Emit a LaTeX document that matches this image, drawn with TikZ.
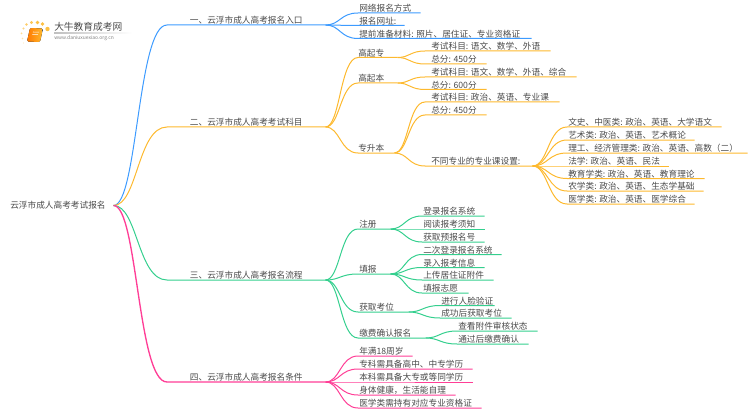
\documentclass[tikz,border=0pt]{standalone}
\usepackage{fontspec}
\setmainfont{Noto Sans CJK SC}
\usetikzlibrary{calc}
\definecolor{cblue}{HTML}{3D9BFF}
\definecolor{corange}{HTML}{FDB92E}
\definecolor{cgreen}{HTML}{34CF8E}
\definecolor{cpink}{HTML}{FF3E96}
\definecolor{ctext}{HTML}{4A4A4A}
\newlength{\mapw}
\tikzset{
  maptext/.style={inner sep=0pt,anchor=south west,text height=6pt,text depth=0.6pt,text=ctext,font=\fontsize{6.5pt}{8pt}\selectfont},
  conn/.style={line width=0.75pt},
}
% name, x start, x end, y of underline, text inset, text, alignment
\newcommand{\mapn}[7][l]{%
  \pgfmathsetlength{\mapw}{(#4-#3)*0.75pt}%
  \node[maptext] (#2) at (#3,#5) {\makebox[\mapw][#1]{\hspace{\dimexpr#6pt*3/4\relax}#7}};%
}
\newcommand{\maplink}[3]{%
  \draw[conn,#1] let \p1=(#2), \p2=(#3.south west) in
    (\p1) .. controls ({0.55*\x1+0.45*\x2},\y1) and ({0.55*\x1+0.45*\x2},\y2) .. (\p2) -- (#3.south east);%
}
\begin{document}
\begin{tikzpicture}[x=0.75pt,y=-0.75pt]
\useasboundingbox (0,0) rectangle (750,410);
% logo
\foreach \px/\py/\pr/\po in {47.5/29/2.2/0.9,42.5/24/1.9/0.9,37.5/22.5/1.9/0.9,31.5/22.5/1.7/0.8,26.5/24.5/1.4/0.7,23.5/28.5/1.2/0.6,21.5/33.5/1/0.5,22.5/38.5/0.8/0.4,23.5/43/0.7/0.3}
  {\fill[corange,opacity=\po] (\px,\py) circle (\pr*0.75pt);}
\fill[rounded corners=1pt,left color=orange!95!red,right color=corange] (30,28) -- (43,28.5) -- (40,42) -- (27,41.5) -- cycle;
\draw[white,line width=0.4pt] (33,32) -- (39,32.2) (32.5,34.5) -- (38,34.7);
\node[inner sep=0pt,anchor=west,text=ctext,font=\fontsize{7.3pt}{8pt}\selectfont] (logotitle) at (54,27) {大牛教育成考网};
\node[inner sep=0pt,anchor=west,text=gray,font=\fontsize{3.7pt}{4pt}\selectfont] (logourl) at (54,38.5) {www.daniuxuexiao.org.cn};
\fill[left color=black!25,right color=white] (54,32.8) rectangle (132,33.4);
% root
\node[inner sep=0pt,anchor=west,text=ctext,font=\fontsize{6.5pt}{8pt}\selectfont] (root) at (10,205.5) {\makebox[77.25pt][l]{云浮市成人高考考试报名}};
% level 1
\mapn[c]{a}{167}{325}{25}{0}{一、云浮市成人高考报名入口}
\mapn[c]{b}{167}{325}{127}{0}{二、云浮市成人高考考试科目}
\mapn[c]{c}{167}{325}{280}{0}{三、云浮市成人高考报名流程}
\mapn[c]{d}{167}{325}{382}{0}{四、云浮市成人高考报名条件}
\maplink{cblue}{root.east}{a}
\maplink{corange}{root.east}{b}
\maplink{cgreen}{root.east}{c}
\maplink{cpink,line width=1pt}{root.east}{d}
% branch 1
\mapn{a1}{358}{420}{13}{1}{网络报名方式}
\mapn{a2}{358}{404}{25.5}{1}{报名网址:}
\mapn{a3}{358}{531}{38.5}{1}{提前准备材料: 照片、居住证、专业资格证}
\foreach \kid in {a1,a2,a3} {\maplink{cblue}{a.south east}{\kid}}
% branch 2
\mapn{b1}{358}{397}{57.5}{0}{高起专}
\mapn{b2}{358}{397}{83}{0}{高起本}
\mapn{b3}{358}{394}{153}{0}{专升本}
\foreach \kid in {b1,b2,b3} {\maplink{corange}{b.south east}{\kid}}
\mapn{b11}{425}{550}{51}{6}{考试科目: 语文、数学、外语}
\mapn{b12}{425}{486}{64}{6}{总分: 450分}
\foreach \kid in {b11,b12} {\maplink{corange}{b1.south east}{\kid}}
\mapn{b21}{425}{576}{77}{6}{考试科目: 语文、数学、外语、综合}
\mapn{b22}{425}{486}{89.5}{6}{总分: 600分}
\foreach \kid in {b21,b22} {\maplink{corange}{b2.south east}{\kid}}
\mapn{b31}{425}{559}{102}{6}{考试科目: 政治、英语、专业课}
\mapn{b32}{425}{486}{115}{6}{总分: 450分}
\mapn{b33}{425}{532}{166}{6}{不同专业的专业课设置:}
\foreach \kid in {b31,b32,b33} {\maplink{corange}{b3.south east}{\kid}}
\mapn{s1}{567}{721}{127}{1}{文史、中医类: 政治、英语、大学语文}
\mapn{s2}{567}{694}{140}{1}{艺术类: 政治、英语、艺术概论}
\mapn{s3}{567}{747}{153}{1}{理工、经济管理类: 政治、英语、高数（二）}
\mapn{s4}{567}{668}{166}{1}{法学: 政治、英语、民法}
\mapn{s5}{567}{704}{178.5}{1}{教育学类: 政治、英语、教育理论}
\mapn{s6}{567}{703}{191}{1}{农学类: 政治、英语、生态学基础}
\mapn{s7}{567}{694}{204}{1}{医学类: 政治、英语、医学综合}
\foreach \kid in {s1,s2,s3,s4,s5,s6,s7} {\maplink{corange}{b33.south east}{\kid}}
% branch 3
\mapn{c1}{358}{390}{229}{1}{注册}
\mapn{c2}{358}{390}{274}{1}{填报}
\mapn{c3}{358}{408}{312}{1}{获取考位}
\mapn{c4}{358}{425}{338}{1}{缴费确认报名}
\foreach \kid in {c1,c2,c3,c4} {\maplink{cgreen}{c.south east}{\kid}}
\mapn{c11}{422}{484}{216}{1}{登录报名系统}
\mapn{c12}{422}{484}{229}{1}{阅读报考须知}
\mapn{c13}{422}{484}{242}{1}{获取预报名号}
\foreach \kid in {c11,c12,c13} {\maplink{cgreen}{c1.south east}{\kid}}
\mapn{c21}{422}{501}{254.5}{1}{二次登录报名系统}
\mapn{c22}{422}{484}{267.5}{1}{录入报考信息}
\mapn{c23}{422}{493}{280}{1}{上传居住证附件}
\mapn{c24}{422}{468}{293}{1}{填报志愿}
\foreach \kid in {c21,c22,c23,c24} {\maplink{cgreen}{c2.south east}{\kid}}
\mapn{c31}{440}{494}{305.5}{1}{进行人脸验证}
\mapn{c32}{440}{511}{318}{1}{成功后获取考位}
\foreach \kid in {c31,c32} {\maplink{cgreen}{c3.south east}{\kid}}
\mapn{c41}{457}{537}{331}{1}{查看附件审核状态}
\mapn{c42}{457}{528}{344}{1}{通过后缴费确认}
\foreach \kid in {c41,c42} {\maplink{cgreen}{c4.south east}{\kid}}
% branch 4
\mapn{d1}{358}{412}{356}{1}{年满18周岁}
\mapn{d2}{358}{472}{369}{1}{专科需具备高中、中专学历}
\mapn{d3}{358}{472}{382}{1}{本科需具备大专或等同学历}
\mapn{d4}{358}{455}{395}{1}{身体健康，生活能自理}
\mapn{d5}{358}{481}{408}{1}{医学类需持有对应专业资格证}
\foreach \kid in {d1,d2,d3,d4,d5} {\maplink{cpink}{d.south east}{\kid}}
\end{tikzpicture}
\end{document}
